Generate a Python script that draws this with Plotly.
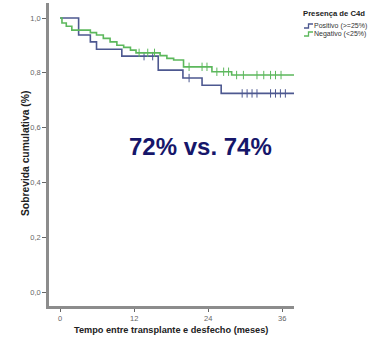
import plotly.graph_objects as go

# ---- data ----
pos_times = [0, 3.0, 4.9, 5.9, 10.0, 15.9, 19.9, 23.0, 26.1]
pos_surv = [1.0, 0.938, 0.913, 0.886, 0.861, 0.810, 0.781, 0.755, 0.725]
pos_end = 38.0
pos_censor = [13.6, 15.0, 20.9, 29.5, 30.3, 31.1, 31.9, 34.1, 34.9, 35.7, 36.5]

neg_times = [0, 0.3, 1.0, 1.9, 4.9, 5.9, 7.0, 8.1, 9.2, 10.3, 11.4, 12.3,
             16.2, 17.3, 18.4, 20.0, 24.6, 27.8]
neg_surv = [1.0, 0.982, 0.970, 0.956, 0.947, 0.938, 0.926, 0.913, 0.901, 0.893,
            0.883, 0.873, 0.863, 0.853, 0.847, 0.822, 0.804, 0.792]
neg_end = 38.0
neg_censor = [12.8, 14.2, 15.3, 20.9, 23.0, 23.8, 25.4, 26.5, 27.3, 28.6, 29.7,
              31.9, 33.0, 34.1, 34.9, 35.8]

series_names = ["Positivo (>=25%)", "Negativo (<25%)"]
x_ticks = [0, 12, 24, 36]
y_ticks = [0.0, 0.2, 0.4, 0.6, 0.8, 1.0]

POS_COLOR = "#4d5890"
NEG_COLOR = "#5cb85c"
AXIS_COLOR = "#8c8c8c"
FONT = "Liberation Sans, Arial, sans-serif"


def step_value(times, surv, t):
    v = surv[0]
    for ti, si in zip(times, surv):
        if ti <= t:
            v = si
    return v


fig = go.Figure()
for times, surv, end, cens, name, color in [
    (pos_times, pos_surv, pos_end, pos_censor, series_names[0], POS_COLOR),
    (neg_times, neg_surv, neg_end, neg_censor, series_names[1], NEG_COLOR),
]:
    fig.add_trace(go.Scatter(
        x=times + [end], y=surv + [surv[-1]], mode="lines",
        line=dict(color=color, width=1.6, shape="hv"),
        name=name, showlegend=False, hoverinfo="skip"))
    fig.add_trace(go.Scatter(
        x=cens, y=[step_value(times, surv, t) for t in cens], mode="markers",
        marker=dict(symbol="line-ns", size=6, line=dict(color=color, width=1)),
        showlegend=False, hoverinfo="skip"))

# plot area in pixels: x 49..294, y 3..306
L, R, T, B = 49, 294, 3, 306
W, H = 368, 341


def px(x):
    return (x - L) / (R - L)


def py(y):
    return (B - y) / (B - T)


annotations = [
    dict(text="<b>72% vs. 74%</b>", x=px(200), y=py(146), xref="paper", yref="paper",
         showarrow=False, font=dict(family=FONT, size=24, color="#16166a"),
         xanchor="center", yanchor="middle"),
    dict(text="<b>Tempo entre transplante e desfecho (meses)</b>", x=px(171), y=py(330),
         xref="paper", yref="paper", showarrow=False,
         font=dict(family=FONT, size=9.2, color="#222222"), xanchor="center", yanchor="middle"),
    dict(text="<b>Sobrevida cumulativa (%)</b>", x=px(25), y=py(154), textangle=-90,
         xref="paper", yref="paper", showarrow=False,
         font=dict(family=FONT, size=10.3, color="#222222"), xanchor="center", yanchor="middle"),
    dict(text="<b>Presença de C4d</b>", x=px(301), y=py(14), xref="paper", yref="paper",
         showarrow=False, font=dict(family=FONT, size=7.7, color="#222222"),
         xanchor="left", yanchor="middle"),
]
shapes = []
for name, color, yy in [(series_names[0], POS_COLOR, 26), (series_names[1], NEG_COLOR, 34)]:
    annotations.append(dict(text=name, x=px(312), y=py(yy), xref="paper", yref="paper",
                            showarrow=False, font=dict(family=FONT, size=7, color="#333333"),
                            xanchor="left", yanchor="middle"))
    path = "M {} {} L {} {} L {} {} L {} {}".format(
        px(304), py(yy + 2), px(308.5), py(yy + 2), px(308.5), py(yy - 2), px(313), py(yy - 2))
    shapes.append(dict(type="path", path=path, xref="paper", yref="paper",
                       line=dict(color=color, width=1.3)))

fig.update_layout(
    width=W, height=H,
    margin=dict(l=L, r=W - R, t=T, b=H - B),
    paper_bgcolor="white", plot_bgcolor="white",
    separators=",.",
    showlegend=False,
    annotations=annotations, shapes=shapes,
    xaxis=dict(range=[-1.8, 37.9], tickvals=x_ticks, ticktext=[str(v) for v in x_ticks],
               showgrid=False, zeroline=False, showline=True, linecolor=AXIS_COLOR,
               linewidth=2.5, ticks="outside", ticklen=3, tickcolor="#666666", tickwidth=1,
               tickfont=dict(family=FONT, size=7.5, color="#666666")),
    yaxis=dict(range=[-0.051, 1.055], tickvals=y_ticks, tickformat=".1f",
               showgrid=False, zeroline=False, showline=True, linecolor=AXIS_COLOR,
               linewidth=2.5, ticks="outside", ticklen=4, tickcolor="#666666", tickwidth=1,
               tickfont=dict(family=FONT, size=7.5, color="#666666")),
)

fig.write_html("out.html", config={"displayModeBar": False},
               post_script="document.body.style.margin='0px';")
